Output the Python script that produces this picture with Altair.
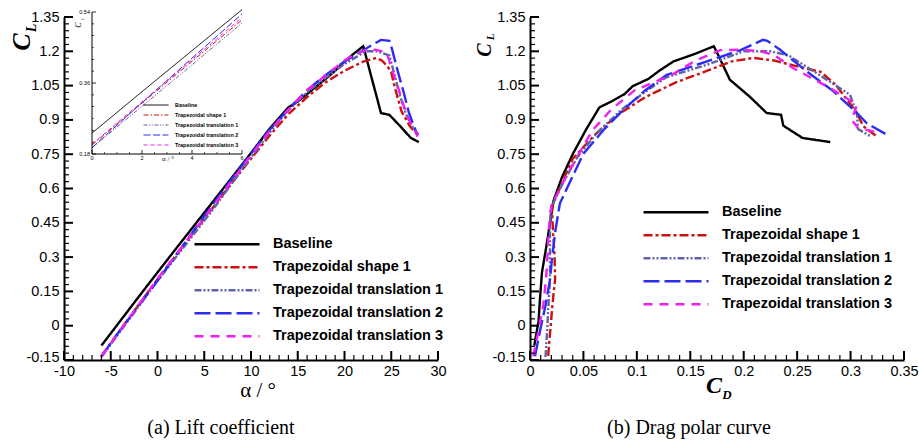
import altair as alt
import pandas as pd

SERIES = ["Baseline", "Trapezoidal shape 1", "Trapezoidal translation 1",
          "Trapezoidal translation 2", "Trapezoidal translation 3"]
COLORS = ["#000000", "#cc1111", "#6262a8", "#2d2df2", "#f020f0"]
DASHES = [[1, 0], [9, 3, 3, 3], [7, 2, 2, 2, 2, 2], [16, 5], [9, 7]]
DASHES_INSET = [[1, 0], [5, 2, 1.5, 2], [4, 1.5, 1.2, 1.5, 1.2, 1.5], [7, 2.5], [4, 3]]

# angle of attack (deg), lift coefficient, drag coefficient
alpha_base = [-6, -4, -2, 0, 2, 4, 6, 8, 10, 12, 14, 15, 16, 17, 18, 19, 20, 21, 22,
              22.25, 22.95, 23.45, 23.9, 24.8, 25.9, 27.1, 27.95]
cl_base = [-0.087, 0.020, 0.127, 0.233, 0.338, 0.442, 0.546, 0.650, 0.755, 0.862,
           0.955, 0.980, 1.013, 1.047, 1.080, 1.115, 1.155, 1.190, 1.222,
           1.185, 1.076, 1.000, 0.930, 0.922, 0.875, 0.821, 0.803]
cd_base = [0.004, 0.008, 0.0095, 0.0112, 0.015, 0.0185, 0.022, 0.030, 0.0405, 0.053,
           0.065, 0.076, 0.0885, 0.096, 0.111, 0.121, 0.134, 0.155, 0.172,
           0.176, 0.187, 0.206, 0.2215, 0.235, 0.237, 0.255, 0.281]

alpha_s1 = [-6, -4, -2, 0, 2, 4, 6, 8, 10, 12, 14, 16, 18, 20, 22, 23.4, 24.0, 24.6,
            25.0, 25.3, 26.1, 27.0, 28.0]
cl_s1 = [-0.132, -0.020, 0.092, 0.203, 0.309, 0.415, 0.520, 0.627, 0.730, 0.832, 0.925,
         1.000, 1.065, 1.115, 1.155, 1.171, 1.160, 1.134, 1.110, 1.054, 0.937, 0.872, 0.828]
cd_s1 = [0.017, 0.019, 0.021, 0.0235, 0.023, 0.0215, 0.0205, 0.030, 0.040, 0.060, 0.083,
         0.108, 0.137, 0.166, 0.188, 0.209, 0.228, 0.250, 0.272, 0.286, 0.305, 0.312, 0.3245]

alpha_t1 = [-6, -4, -2, 0, 2, 4, 6, 8, 10, 12, 14, 16, 18, 20, 22.3, 23.5, 24.8, 25.3,
            25.9, 26.6, 27.4, 28.0]
cl_t1 = [-0.137, -0.026, 0.085, 0.196, 0.301, 0.406, 0.512, 0.625, 0.735, 0.845, 0.942,
         1.020, 1.085, 1.145, 1.200, 1.200, 1.182, 1.105, 1.010, 0.923, 0.860, 0.830]
cd_t1 = [0.0145, 0.016, 0.0172, 0.0187, 0.0187, 0.0187, 0.0192, 0.031, 0.044, 0.063, 0.085,
         0.107, 0.127, 0.168, 0.200, 0.225, 0.242, 0.268, 0.2995, 0.306, 0.307, 0.318]

alpha_t2 = [-6, -4, -2, 0, 2, 4, 6, 8, 10, 12, 14, 16, 18, 20, 22, 23.9, 24.8, 25.1,
            25.7, 26.3, 26.9, 27.3, 27.8]
cl_t2 = [-0.134, -0.020, 0.088, 0.196, 0.310, 0.423, 0.535, 0.645, 0.752, 0.857, 0.947,
         1.030, 1.097, 1.155, 1.205, 1.250, 1.246, 1.207, 1.112, 1.025, 0.930, 0.886, 0.835]
cd_t2 = [0.0047, 0.0095, 0.0145, 0.0185, 0.021, 0.024, 0.028, 0.039, 0.050, 0.069, 0.088,
         0.108, 0.128, 0.165, 0.197, 0.218, 0.222, 0.234, 0.259, 0.284, 0.306, 0.315, 0.334]

alpha_t3 = [-6, -4, -2, 0, 2, 4, 6, 8, 10, 12, 14, 16, 18, 20, 21, 22.3, 23.3, 24.0,
            24.6, 25.0, 25.7, 26.3, 26.9, 27.3, 27.6, 27.8]
cl_t3 = [-0.134, -0.021, 0.092, 0.205, 0.312, 0.419, 0.526, 0.637, 0.745, 0.852, 0.945,
         1.030, 1.095, 1.160, 1.185, 1.205, 1.207, 1.200, 1.185, 1.127, 1.047, 0.966,
         0.900, 0.865, 0.850, 0.827]
cd_t3 = [0.003, 0.008, 0.0125, 0.015, 0.0165, 0.0175, 0.020, 0.032, 0.045, 0.058, 0.076,
         0.098, 0.132, 0.155, 0.168, 0.178, 0.200, 0.215, 0.228, 0.246, 0.278, 0.306,
         0.301, 0.307, 0.321, 0.325]

# axis ticks
alpha_major = [-10, -5, 0, 5, 10, 15, 20, 25, 30]
alpha_minor = [v for v in range(-10, 31) if v % 5]
cd_major = [0, 0.05, 0.1, 0.15, 0.2, 0.25, 0.3, 0.35]
cd_minor = [round(i * 0.01, 2) for i in range(36) if i % 5]
cl_major = [-0.15, 0, 0.15, 0.3, 0.45, 0.6, 0.75, 0.9, 1.05, 1.2, 1.35]
cl_minor = [round(-0.15 + i * 0.03, 2) for i in range(51) if i % 5]
inset_x_major = [0, 2, 4, 6]
inset_x_minor = [round(i * 0.5, 1) for i in range(13) if i % 4]
inset_y_major = [0.18, 0.36, 0.54]
inset_y_minor = [round(0.18 + i * 0.03, 2) for i in range(13) if i % 6]

frames = []
for name, a, cl, cd in zip(SERIES,
                           [alpha_base, alpha_s1, alpha_t1, alpha_t2, alpha_t3],
                           [cl_base, cl_s1, cl_t1, cl_t2, cl_t3],
                           [cd_base, cd_s1, cd_t1, cd_t2, cd_t3]):
    frames.append(pd.DataFrame({"series": name, "alpha": a, "cl": cl, "cd": cd}))
df = pd.concat(frames, ignore_index=True)

PW, PH = 374, 343
SANS = "Liberation Sans"
SERIF = "Liberation Serif"

x_alpha = alt.Scale(domain=[-10, 30], nice=False, zero=False)
x_cd = alt.Scale(domain=[0, 0.35], nice=False, zero=False)
y_cl = alt.Scale(domain=[-0.15, 1.35], nice=False, zero=False)

# zoomed view of the linear range, placed in the upper-left of the lift panel
INSET_LEFT, INSET_TOP, INSET_W, INSET_H = 28, -5, 150, 142
ix0, ix1, iy0, iy1 = 0, 6, 0.18, 0.54
kx = (ix1 - ix0) / INSET_W
ky = (iy1 - iy0) / INSET_H
x_inset = alt.Scale(domain=[ix0 - INSET_LEFT * kx, ix0 + (PW - INSET_LEFT) * kx],
                    nice=False, zero=False)
y_inset = alt.Scale(domain=[iy1 - (PH - INSET_TOP) * ky, iy1 + INSET_TOP * ky],
                    nice=False, zero=False)

MINUS_FIX = "replace(datum.label, '\u2212', '-')"


def axis(values, pad, offset=0):
    return alt.Axis(values=values, ticks=False, grid=False, title=None, format=".4~g",
                    labelFont=SANS, labelFontSize=14.5, labelColor="black",
                    labelPadding=pad, labelFlush=False, labelOverlap=False,
                    labelOffset=offset,
                    domainColor="black", domainWidth=2, labelExpr=MINUS_FIX)


AX_ALPHA = axis(alpha_major, 4)
AX_CD = axis(cd_major, 4)
# lift the lowest label a little so it clears the corner label of the x axis
AX_CL = axis(cl_major, 5, {"condition": {"test": "datum.value < 0", "value": -3}, "value": 0})


def legend(x, y, length, width, font, offset, row):
    return alt.Legend(title=None, orient="none", legendX=x, legendY=y,
                      symbolType="stroke", symbolSize=length * length,
                      symbolStrokeWidth=width, labelFont=SANS, labelFontWeight="bold",
                      labelFontSize=font, labelColor="black", labelOffset=offset,
                      clipHeight=row, rowPadding=0, padding=0, labelLimit=400)


def curves(data, xfield, xscale, xaxis, yscale, yaxis, lg, dashes, width):
    return alt.Chart(data).mark_line(strokeWidth=width).encode(
        x=alt.X(xfield, type="quantitative", scale=xscale, axis=xaxis),
        y=alt.Y("cl:Q", scale=yscale, axis=yaxis),
        color=alt.Color("series:N", scale=alt.Scale(domain=SERIES, range=COLORS), legend=lg),
        strokeDash=alt.StrokeDash("series:N", scale=alt.Scale(domain=SERIES, range=dashes),
                                  legend=lg),
        order=alt.Order("alpha:Q"),
    )


def xticks(values, xscale, xaxis, at, yaxis, size, width):
    return alt.Chart(pd.DataFrame({"v": values})).mark_tick(
        orient="vertical", size=size, thickness=width, color="black", opacity=1,
        yOffset=-size / 2).encode(
        x=alt.X("v:Q", scale=xscale, axis=xaxis),
        y=alt.YDatum(at, type="quantitative", axis=yaxis))


def yticks(values, yscale, yaxis, at, xaxis, size, width):
    return alt.Chart(pd.DataFrame({"v": values})).mark_tick(
        orient="horizontal", size=size, thickness=width, color="black", opacity=1,
        xOffset=size / 2).encode(
        y=alt.Y("v:Q", scale=yscale, axis=yaxis),
        x=alt.XDatum(at, type="quantitative", axis=xaxis))


def text(t, x, y, size, font=SERIF, weight="normal", style="normal", angle=0):
    return alt.Chart(pd.DataFrame({"t": [t]})).mark_text(
        font=font, fontSize=size, fontWeight=weight, fontStyle=style, angle=angle,
        align="center", baseline="middle", color="black").encode(
        text="t:N", x=alt.value(x), y=alt.value(y))


# ---- lift panel ----
lift_lines = curves(df, "alpha", x_alpha, AX_ALPHA, y_cl, AX_CL,
                    legend(129, 216, 65, 2.5, 14.5, 12, 22.3), DASHES, 2.4)
lift_main = alt.layer(
    lift_lines,
    xticks(alpha_major, x_alpha, AX_ALPHA, -0.15, AX_CL, 9, 2),
    xticks(alpha_minor, x_alpha, AX_ALPHA, -0.15, AX_CL, 5, 1.2),
    yticks(cl_major, y_cl, AX_CL, -10, AX_ALPHA, 9, 2),
    yticks(cl_minor, y_cl, AX_CL, -10, AX_ALPHA, 5, 1.2),
    text("C", -42, 25, 26, weight="bold", style="italic", angle=270),
    text("L", -32, 11, 14, weight="bold", style="italic", angle=270),
    text("α / °", 194, 374, 21),
    text("(a) Lift coefficient", 157, 411, 20),
)

inset_data = df[(df["alpha"] >= ix0) & (df["alpha"] <= ix1)]
inset_frame = alt.Chart(pd.DataFrame({"x": [ix0, ix0], "x2": [ix1, ix0],
                                      "y": [iy0, iy0], "y2": [iy0, iy1]})).mark_rule(
    color="black", strokeWidth=1).encode(
    x=alt.X("x:Q", scale=x_inset, axis=None), x2="x2:Q",
    y=alt.Y("y:Q", scale=y_inset, axis=None), y2="y2:Q")
inset_xlab = alt.Chart(pd.DataFrame({"v": inset_x_major})).mark_text(
    font=SANS, fontSize=5.5, baseline="top", dy=2, color="black").encode(
    x=alt.X("v:Q", scale=x_inset, axis=None),
    y=alt.YDatum(iy0, type="quantitative", axis=None),
    text=alt.Text("v:Q", format="~g"))
inset_ylab = alt.Chart(pd.DataFrame({"v": inset_y_major})).mark_text(
    font=SANS, fontSize=5.5, align="right", dx=-2, color="black").encode(
    y=alt.Y("v:Q", scale=y_inset, axis=None),
    x=alt.XDatum(ix0, type="quantitative", axis=None),
    text=alt.Text("v:Q", format="~g"))
inset = alt.layer(
    curves(inset_data, "alpha", x_inset, None, y_inset, None,
           legend(79, 83.4, 25, 1, 5.4, 6, 9.2), DASHES_INSET, 1),
    inset_frame,
    xticks(inset_x_major, x_inset, None, iy0, None, 4, 0.8),
    xticks(inset_x_minor, x_inset, None, iy0, None, 2, 0.6),
    yticks(inset_y_major, y_inset, None, ix0, None, 4, 0.8),
    yticks(inset_y_minor, y_inset, None, ix0, None, 2, 0.6),
    inset_xlab,
    inset_ylab,
    text("C", 15, 8, 8, style="italic", angle=270),
    text("L", 18, 2, 5, style="italic", angle=270),
    text("α / °", 104, 142, 7),
)

lift_panel = alt.layer(lift_main, inset).resolve_scale(
    x="independent", y="independent", color="independent", strokeDash="independent"
).properties(width=PW, height=PH)

# ---- drag polar panel ----
polar_lines = curves(df, "cd", x_cd, AX_CD, y_cl, AX_CL,
                     legend(112, 184, 65, 2.5, 14.5, 12, 22.3), DASHES, 2.4)
polar_panel = alt.layer(
    polar_lines,
    xticks(cd_major, x_cd, AX_CD, -0.15, AX_CL, 9, 2),
    xticks(cd_minor, x_cd, AX_CD, -0.15, AX_CL, 5, 1.2),
    yticks(cl_major, y_cl, AX_CL, 0, AX_CD, 9, 2),
    yticks(cl_minor, y_cl, AX_CL, 0, AX_CD, 5, 1.2),
    text("C", -45, 33, 20, weight="bold", style="italic", angle=270),
    text("L", -39, 20, 11, weight="bold", style="italic", angle=270),
    text("C", 184, 369, 24, weight="bold", style="italic"),
    text("D", 197, 378, 13, weight="bold", style="italic"),
    text("(b) Drag polar curve", 159, 411, 20),
).properties(width=PW, height=PH)

chart = alt.hconcat(lift_panel, polar_panel, spacing=92, bounds="flush").resolve_scale(
    x="independent", y="independent", color="independent", strokeDash="independent"
).properties(
    autosize=alt.AutoSizeParams(type="none"),
    padding={"left": 64, "top": 17, "right": 855, "bottom": 425},
    background="white",
).configure_view(stroke=None)

chart.save("out.html", embed_options={"renderer": "svg", "actions": False})
